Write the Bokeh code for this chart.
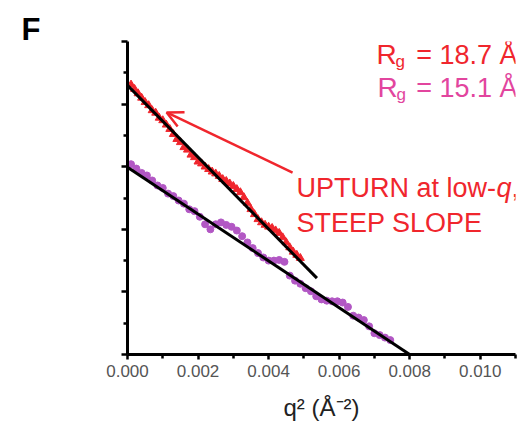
from bokeh.plotting import figure
from bokeh.models import Range1d, FixedTicker, PrintfTickFormatter, Label, Arrow, OpenHead
from bokeh.embed import file_html
from bokeh.resources import INLINE

# ---- data ----
red_x = [0.0001, 0.0002, 0.0003, 0.0004, 0.0005, 0.0006, 0.0007, 0.0008, 0.0009, 0.0010,
         0.0011, 0.0012, 0.0013, 0.0014, 0.0015, 0.0016, 0.0017, 0.0018, 0.0019, 0.0020,
         0.0021, 0.0022, 0.0023, 0.0024, 0.0025, 0.0026, 0.0027, 0.0028, 0.0029, 0.0030,
         0.0031, 0.0032, 0.0033, 0.0034, 0.0035, 0.0036, 0.0037, 0.0038, 0.0039, 0.0040,
         0.0041, 0.0042, 0.0043, 0.0044, 0.0045, 0.0046, 0.0047, 0.0048, 0.0049]
red_y = [4.31, 4.24, 4.17, 4.10, 4.03, 3.98, 3.90, 3.86, 3.78, 3.74,
         3.67, 3.60, 3.52, 3.44, 3.39, 3.31, 3.27, 3.19, 3.15, 3.08,
         3.05, 3.00, 2.96, 2.92, 2.89, 2.85, 2.80, 2.77, 2.73, 2.69,
         2.64, 2.59, 2.51, 2.42, 2.32, 2.24, 2.16, 2.11, 2.07, 2.04,
         2.02, 1.98, 1.94, 1.87, 1.79, 1.71, 1.64, 1.59, 1.54]

purple_x = [0.00010, 0.00025, 0.00040, 0.00055, 0.00070, 0.00085, 0.00100, 0.00115, 0.00130, 0.00145,
            0.00160, 0.00175, 0.00190, 0.00205, 0.00220, 0.00235, 0.00250, 0.00265, 0.00280, 0.00295,
            0.00310, 0.00325, 0.00340, 0.00355, 0.00370, 0.00385, 0.00400, 0.00415, 0.00430, 0.00445,
            0.00460, 0.00475, 0.00490, 0.00505, 0.00520, 0.00535, 0.00550, 0.00565, 0.00580, 0.00595,
            0.00610, 0.00625, 0.00640, 0.00655, 0.00670, 0.00685, 0.00700, 0.00715, 0.00730, 0.00745]
purple_y = [3.04, 2.97, 2.90, 2.86, 2.78, 2.70, 2.66, 2.57, 2.53, 2.46,
            2.41, 2.32, 2.29, 2.20, 2.08, 2.00, 2.08, 2.11, 2.07, 2.04,
            1.98, 1.89, 1.79, 1.70, 1.62, 1.55, 1.50, 1.50, 1.51, 1.48,
            1.26, 1.18, 1.13, 1.06, 1.01, 0.93, 0.88, 0.86, 0.85, 0.85,
            0.83, 0.76, 0.62, 0.59, 0.55, 0.45, 0.34, 0.31, 0.27, 0.23]

red_fit_x = [0.0, 0.00537]
red_fit_y = [4.30, 1.22]
purple_fit_x = [0.0, 0.0080]
purple_fit_y = [2.99, 0.0]

x_ticks = [0.000, 0.002, 0.004, 0.006, 0.008, 0.010]
x_minor = [0.001, 0.003, 0.005, 0.007, 0.009, 0.011]
y_ticks = [0, 1, 2, 3, 4, 5]
y_minor = [0.5, 1.5, 2.5, 3.5, 4.5]

RED = "#f0262d"
PURPLE = "#b257c4"
PINK = "#e2459e"
FONT = "Liberation Sans"

p = figure(width=520, height=426, output_backend="svg", toolbar_location=None,
           x_range=Range1d(0, 0.011), y_range=Range1d(0, 5),
           min_border_left=127, min_border_right=5, min_border_top=41, min_border_bottom=72)
p.outline_line_color = None
p.grid.visible = False
p.background_fill_color = "white"
p.border_fill_color = "white"

# panel letter as title
p.title.text = "F"
p.title.text_font = FONT
p.title.text_font_size = "31px"
p.title.text_font_style = "bold"
p.title.text_color = "black"
p.title.align = "left"
p.title.offset = -106
p.title.standoff = -10

# axes
for ax in (p.xaxis[0], p.yaxis[0]):
    ax.axis_line_width = 3
    ax.axis_line_color = "black"
    ax.major_tick_line_width = 2.5
    ax.minor_tick_line_width = 2.5
    ax.major_tick_line_color = "black"
    ax.minor_tick_line_color = "black"
    ax.major_tick_in = 0
    ax.minor_tick_in = 0

p.xaxis.ticker = FixedTicker(ticks=x_ticks, minor_ticks=x_minor)
p.xaxis.formatter = PrintfTickFormatter(format="%.3f")
p.xaxis.major_tick_out = 5
p.xaxis.minor_tick_out = 4
p.xaxis.major_label_text_font = FONT
p.xaxis.major_label_text_font_size = "17px"
p.xaxis.major_label_text_color = "#555555"
p.xaxis.major_label_standoff = 5
p.xaxis.axis_label = "q² (Å⁻²)"
p.xaxis.axis_label_text_font = FONT
p.xaxis.axis_label_text_font_size = "24px"
p.xaxis.axis_label_text_font_style = "normal"
p.xaxis.axis_label_text_color = "#222222"
p.xaxis.axis_label_standoff = 14

p.yaxis.ticker = FixedTicker(ticks=y_ticks, minor_ticks=y_minor)
p.yaxis.major_tick_out = 6
p.yaxis.minor_tick_out = 4
p.yaxis.major_label_text_color = None
p.yaxis.major_label_text_font_size = "1px"

# data
p.scatter(red_x, red_y, marker="triangle", size=8, fill_color=RED, line_color=RED)
p.scatter(purple_x, purple_y, marker="circle", size=7, fill_color=PURPLE, line_color=PURPLE)
p.line(red_fit_x, red_fit_y, line_color="black", line_width=3)
p.line(purple_fit_x, purple_fit_y, line_color="black", line_width=3)

# arrow
p.add_layout(Arrow(end=OpenHead(size=16, line_color=RED, line_width=2.5),
                   x_start=0.00468, y_start=2.907, x_end=0.00111, y_end=3.866,
                   line_color=RED, line_width=2.5))

def lab(x, y, text, size, color, style="normal", align="left", angle=0.0):
    p.add_layout(Label(x=x, y=y, text=text, text_font=FONT, text_font_size=size,
                       text_color=color, text_font_style=style, text_align=align,
                       text_baseline="alphabetic", angle=angle))

px = lambda v: (v - 127) / 35270.0
py = lambda v: (354 - v) / 62.6

lab(px(376), py(54), "R", "28px", RED)
lab(px(395), py(61), "g", "17px", RED)
lab(px(517), py(54), "= 18.7 Å", "27px", RED, align="right")
lab(px(377), py(87), "R", "28px", PINK)
lab(px(396), py(94), "g", "17px", PINK)
lab(px(517), py(87), "= 15.1 Å", "27px", PINK, align="right")

lab(px(296), py(187), "UPTURN at low-", "27px", RED)
lab(px(496), py(187), "q", "27px", RED, style="italic")
lab(px(511), py(187), ",", "27px", RED)
lab(px(296), py(222), "STEEP SLOPE", "27px", RED)

lab(px(79), py(209), "ln[I(q)]", "24px", "#222222", align="center", angle=1.5708)

open("out.html", "w").write(file_html(p, INLINE))
